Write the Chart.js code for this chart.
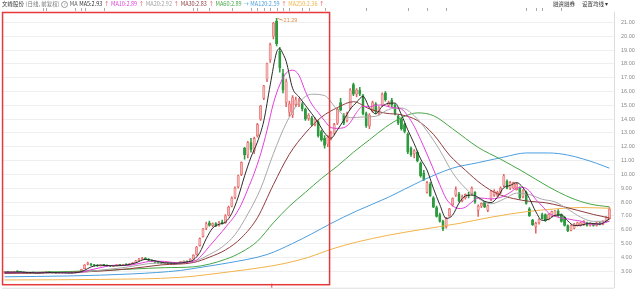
<!DOCTYPE html>
<html lang="zh">
<head>
<meta charset="UTF-8" />
<title>文峰股份 日线</title>
<script src="https://cdn.jsdelivr.net/npm/chart.js"></script>
<style>
  body { margin: 0; background: #fff; }
  #wrap { position: relative; width: 640px; height: 298px; overflow: hidden; }
  #kline { position: absolute; left: 0; top: 0; }
  .bar { position: absolute; top: 1px; font-family: "Noto Sans CJK SC", "Liberation Sans", sans-serif; font-size: 5.5px; line-height: 7px; white-space: nowrap; color: #333; }
  #head { left: 2px; }
  #head span { margin-right: 1.6px; }
  #tools { left: 553px; }
  #tools span { margin-right: 7px; }
  .sub { color: #777; }
  .q { display: inline-block; width: 5px; height: 5px; border: 0.6px solid #999; border-radius: 50%; font-size: 4px; line-height: 5px; text-align: center; color: #888; vertical-align: middle; }
  .up { color: #e8454f; }
</style>
</head>
<body>
<div id="wrap">
  <canvas id="kline" width="640" height="298"></canvas>
  <div id="head" class="bar">
    <span>文峰股份</span><span class="sub">(日线, 前复权)</span><span class="q">?</span><span style="color:#555">MA</span><span style="color:#2b2b2b">MA5:2.93</span><span class="up">↑</span><span style="color:#e23fd9">MA10:2.89</span><span class="up">↑</span><span style="color:#a0a0a0">MA20:2.92</span><span class="up">↑</span><span style="color:#8e3b3b">MA30:2.83</span><span class="up">↑</span><span style="color:#46a546">MA60:2.89</span><span style="color:#4a9ee0">→</span><span style="color:#4a9ee0">MA120:2.59</span><span class="up">↑</span><span style="color:#f2b34a">MA250:2.36</span><span class="up">↑</span>
  </div>
  <div id="tools" class="bar"><span>融资融券</span><span>设置均线 ▾</span></div>
</div>
<script>
  // daily candles: [open, high, low, close], one row per trading day
  const candles = [
    // 0
    [2.90,2.95,2.86,2.93],[2.93,2.96,2.88,2.89],[2.89,2.93,2.85,2.91],[2.91,2.99,2.90,2.97],[2.97,3.02,2.93,2.95],
    [2.95,2.97,2.90,2.92],[2.92,2.94,2.86,2.88],[2.88,2.91,2.84,2.86],[2.86,2.90,2.83,2.88],[2.88,2.92,2.85,2.87],
    // 10
    [2.87,2.90,2.82,2.84],[2.84,2.88,2.81,2.86],[2.86,2.93,2.85,2.91],[2.91,2.96,2.88,2.94],[2.94,2.97,2.89,2.90],
    [2.90,2.93,2.86,2.88],[2.88,2.90,2.84,2.85],[2.85,2.89,2.83,2.87],[2.87,2.92,2.85,2.90],[2.90,2.93,2.86,2.88],
    // 20
    [2.88,2.91,2.84,2.86],[2.86,2.90,2.84,2.89],[2.89,2.95,2.87,2.93],[2.93,2.98,2.90,2.96],[2.97,3.15,2.96,3.12],
    [3.18,3.48,3.15,3.45],[3.50,3.66,3.44,3.52],[3.50,3.56,3.40,3.44],[3.44,3.50,3.36,3.40],[3.40,3.45,3.34,3.38],
    // 30
    [3.38,3.46,3.36,3.43],[3.43,3.48,3.38,3.41],[3.41,3.45,3.34,3.37],[3.37,3.40,3.32,3.35],[3.35,3.42,3.33,3.40],
    [3.40,3.46,3.37,3.44],[3.44,3.49,3.40,3.42],[3.42,3.50,3.41,3.48],[3.48,3.53,3.43,3.46],[3.46,3.55,3.45,3.53],
    // 40
    [3.53,3.62,3.50,3.60],[3.62,3.78,3.60,3.75],[3.76,3.92,3.72,3.88],[3.88,4.00,3.84,3.95],[3.95,3.98,3.84,3.87],
    [3.86,3.90,3.76,3.79],[3.78,3.82,3.68,3.70],[3.70,3.74,3.60,3.63],[3.63,3.68,3.55,3.58],[3.58,3.62,3.52,3.55],
    // 50
    [3.55,3.64,3.53,3.61],[3.61,3.64,3.54,3.57],[3.57,3.60,3.50,3.53],[3.53,3.60,3.51,3.57],[3.57,3.64,3.55,3.62],
    [3.62,3.69,3.60,3.66],[3.66,3.74,3.63,3.71],[3.71,3.73,3.64,3.67],[3.68,3.90,3.66,3.86],[3.88,4.20,3.85,4.15],
    // 60
    [4.20,4.80,4.15,4.74],[4.85,5.40,4.80,5.35],[5.50,6.10,5.45,6.05],[6.10,6.55,6.00,6.42],[6.50,6.62,6.25,6.30],
    [6.30,6.50,6.20,6.44],[6.44,6.52,6.22,6.28],[6.30,6.60,6.26,6.52],[6.55,6.70,6.40,6.45],[6.50,7.10,6.45,7.00],
    // 70
    [7.05,7.70,7.00,7.62],[7.70,8.38,7.65,8.30],[8.35,9.10,8.25,9.00],[9.10,9.95,9.00,9.90],[10.00,10.90,9.90,10.85],
    [11.90,11.95,11.10,11.40],[11.40,12.40,11.20,12.30],[12.30,12.60,11.60,11.80],[11.70,12.70,11.50,12.60],[12.80,13.70,12.70,13.60],
    // 80
    [14.00,15.00,13.90,14.95],[15.50,16.45,15.40,16.40],[16.90,18.05,16.70,18.00],[18.30,19.50,18.10,19.40],[20.00,21.00,19.80,20.95],
    [21.10,21.29,19.30,19.45],[18.90,19.20,17.40,17.70],[17.30,17.60,15.90,16.10],[15.20,16.90,14.90,16.70],[14.50,15.30,14.20,15.10],
    // 90
    [14.30,15.70,14.10,15.55],[15.05,15.60,14.90,15.40],[15.10,15.50,14.90,15.30],[15.10,15.20,14.60,14.75],[14.70,14.80,13.90,14.00],
    [14.05,14.40,13.90,14.30],[14.10,14.20,13.50,13.60],[13.60,14.10,13.50,14.00],[13.80,13.90,12.70,12.80],[13.10,13.20,12.40,12.50],
    // 100
    [12.60,12.80,11.90,12.10],[12.20,12.80,12.00,12.70],[12.60,13.10,12.50,13.00],[13.00,13.70,12.90,13.60],[13.70,14.80,13.60,14.70],
    [15.20,15.50,14.60,14.65],[14.30,14.40,13.60,13.70],[13.90,14.50,13.80,14.40],[14.80,16.20,14.70,16.10],[16.50,16.60,15.70,15.80],
    // 110
    [15.80,16.20,15.60,16.10],[16.10,16.30,15.70,15.80],[15.70,15.80,14.30,14.40],[14.40,14.50,13.40,13.50],[13.50,14.40,13.30,14.30],
    [14.60,15.30,14.50,15.20],[15.10,15.20,14.40,14.50],[14.40,14.90,14.30,14.80],[15.00,15.90,14.90,15.80],[15.90,16.00,15.30,15.40],
    // 120
    [15.00,15.30,14.90,15.20],[15.35,15.50,14.90,15.00],[15.00,15.10,14.30,14.40],[14.20,14.30,13.60,13.70],[14.00,14.10,13.20,13.30],
    [13.60,13.70,13.00,13.10],[12.90,13.00,11.50,11.60],[11.90,12.00,11.30,11.40],[11.50,11.80,11.20,11.70],[11.60,11.70,10.90,11.00],
    // 130
    [10.80,10.90,9.80,9.90],[10.10,10.30,9.55,9.60],[8.70,9.50,8.64,9.40],[9.30,9.40,8.40,8.46],[8.30,8.40,7.60,7.62],
    [7.60,7.70,6.90,6.95],[7.10,7.20,6.55,6.60],[6.60,6.70,5.92,6.05],[6.20,6.90,6.10,6.85],[7.00,7.55,6.95,7.50],
    // 140
    [7.80,8.30,7.70,8.25],[8.50,9.10,8.40,8.90],[8.60,8.70,8.00,8.10],[8.10,8.50,8.00,8.40],[8.30,8.60,8.20,8.55],
    [8.50,8.70,8.30,8.45],[8.60,9.10,8.50,9.00],[8.70,8.75,7.90,8.00],[7.40,7.80,6.95,7.70],[7.70,7.95,7.60,7.90],
    // 150
    [8.00,8.05,7.60,7.65],[7.40,7.80,7.30,7.75],[8.20,8.85,8.10,8.80],[8.50,8.90,8.40,8.80],[8.50,8.80,8.40,8.70],
    [8.70,9.10,8.60,9.00],[9.20,10.00,9.10,9.90],[9.50,9.60,8.95,9.00],[9.00,9.50,8.90,9.40],[9.00,9.45,8.95,9.40],
    // 160
    [8.90,9.40,8.85,9.30],[9.00,9.10,8.20,8.30],[8.40,8.90,8.30,8.80],[8.70,8.80,7.85,7.90],[7.50,7.60,6.95,7.00],
    [6.70,6.75,6.30,6.35],[6.20,6.55,5.75,6.45],[6.50,6.80,6.40,6.75],[7.10,7.20,6.75,6.80],[7.10,7.15,6.60,6.65],
    // 170
    [6.75,7.15,6.70,7.10],[6.95,7.35,6.90,7.30],[7.00,7.40,6.95,7.35],[7.35,7.45,6.95,7.00],[7.10,7.15,6.55,6.60],
    [6.90,6.95,6.25,6.30],[6.30,6.35,5.85,5.90],[5.95,6.35,5.90,6.30],[6.10,6.45,6.05,6.40],[6.30,6.55,6.25,6.50],
    // 180
    [6.30,6.55,6.25,6.50],[6.35,6.65,6.30,6.60],[6.50,6.55,6.25,6.30],[6.30,6.50,6.25,6.45],[6.40,6.45,6.25,6.30],
    [6.30,6.55,6.25,6.50],[6.50,6.55,6.35,6.40],[6.40,6.65,6.35,6.60],[6.60,6.95,6.55,6.90],[6.80,7.60,6.75,7.50]
  ];

  // moving averages: [day index, value]
  const ma5 = [[0,2.93],[5,2.93],[10,2.87],[15,2.9],[20,2.87],[23,2.9],[25,3.06],[27,3.3],[30,3.43],[34,3.38],[38,3.44],[41,3.6],[44,3.85],[47,3.75],[50,3.6],[54,3.57],[57,3.67],[59,3.81],[61,4.35],[63,5.34],[65,6.11],[67,6.39],[69,6.54],[71,7.18],[73,8.36],[75,9.89],[77,11.25],[79,12.34],[81,13.87],[83,16.47],[85,18.84],[86,19.1],[87,18.72],[88,18.18],[90,16.23],[92,15.61],[94,15.0],[96,14.39],[98,13.74],[100,13.0],[102,12.62],[104,13.22],[106,13.93],[108,14.71],[110,15.22],[112,15.64],[114,14.82],[116,14.38],[118,14.92],[120,15.14],[122,15.16],[124,14.32],[126,13.22],[128,12.22],[130,11.12],[132,10.32],[134,8.99],[136,7.81],[138,6.81],[140,7.05],[142,7.92],[144,8.44],[146,8.5],[148,8.34],[150,8.05],[152,7.96],[154,8.34],[156,9.04],[158,9.2],[160,9.4],[162,9.04],[164,8.26],[166,7.3],[168,6.67],[170,6.75],[172,7.04],[174,7.07],[176,6.63],[178,6.3],[180,6.32],[183,6.47],[186,6.39],[189,6.78]];
  const ma10 = [[0,2.89],[10,2.9],[20,2.88],[24,2.92],[27,3.1],[30,3.25],[34,3.42],[38,3.41],[42,3.55],[46,3.72],[50,3.7],[54,3.6],[58,3.66],[60,3.8],[62,4.24],[64,4.8],[66,5.33],[68,5.87],[70,6.44],[72,7.03],[74,7.84],[76,8.93],[78,10.08],[80,11.47],[82,13.18],[84,15.14],[86,16.49],[88,17.33],[90,17.54],[92,17.17],[94,16.0],[96,15.08],[98,14.48],[100,13.88],[102,13.38],[104,13.33],[106,13.38],[108,13.75],[110,14.48],[112,14.93],[114,14.88],[116,15.01],[118,15.02],[120,14.89],[122,14.81],[124,14.73],[126,14.23],[128,13.48],[130,12.51],[132,11.47],[134,10.38],[136,9.26],[138,8.24],[140,7.73],[142,7.53],[144,7.62],[146,8.0],[148,8.29],[150,8.27],[152,8.22],[154,8.28],[156,8.42],[158,8.69],[160,9.0],[162,9.06],[164,8.8],[166,8.19],[168,7.71],[170,7.21],[172,6.97],[174,6.84],[176,6.78],[178,6.69],[180,6.62],[183,6.39],[186,6.43],[189,6.61]];
  const ma20 = [[0,2.92],[10,2.89],[20,2.88],[25,2.93],[30,3.07],[35,3.19],[40,3.35],[45,3.54],[50,3.59],[55,3.64],[60,3.77],[64,4.2],[68,4.75],[72,5.64],[76,7.13],[80,8.96],[84,11.5],[88,13.7],[92,15.2],[96,15.8],[100,15.7],[104,14.67],[108,14.1],[112,14.15],[116,14.2],[120,14.7],[124,14.8],[128,14.25],[132,13.14],[136,11.75],[140,10.12],[144,9.0],[148,8.26],[152,7.87],[156,8.21],[160,8.64],[164,8.54],[168,8.2],[172,8.01],[176,7.48],[180,6.91],[184,6.6],[189,6.62]];
  const ma30 = [[0,2.83],[10,2.86],[19,2.9],[29,2.99],[39,3.17],[49,3.45],[59,3.62],[64,4.01],[69,4.53],[74,5.41],[79,6.86],[84,9.26],[89,11.46],[94,12.99],[99,14.14],[104,14.83],[109,15.26],[114,14.74],[119,14.43],[124,14.31],[129,13.9],[134,12.9],[139,11.4],[144,10.3],[149,9.3],[154,8.6],[159,8.25],[164,8.05],[169,7.95],[174,7.7],[179,7.4],[184,7.1],[189,6.85]];
  const ma60 = [[0,2.89],[10,2.92],[20,2.97],[30,3.05],[40,3.15],[50,3.25],[59,3.31],[69,3.85],[74,4.37],[79,5.16],[84,6.5],[89,7.7],[94,8.7],[99,9.7],[104,10.6],[109,11.6],[114,12.5],[119,13.4],[124,14.1],[129,14.45],[134,14.25],[140,13.3],[148,11.95],[155,11.1],[162,10.2],[170,9.1],[177,8.3],[183,7.85],[189,7.65]];
  const ma120 = [[0,2.59],[20,2.65],[40,2.8],[55,3.05],[62,3.3],[70,3.6],[82,4.2],[90,5.0],[96,5.7],[102,6.45],[110,7.35],[120,8.35],[130,9.5],[140,10.45],[148,10.85],[156,11.25],[163,11.55],[170,11.55],[176,11.4],[181,11.1],[185,10.8],[189,10.45]];
  const ma250 = [[0,2.36],[30,2.4],[55,2.55],[71,2.97],[80,3.25],[87,3.53],[95,4.0],[102,4.58],[110,5.1],[120,5.6],[130,6.0],[142,6.45],[152,6.9],[163,7.3],[172,7.5],[180,7.6],[189,7.55]];

  const yTicks = [3,4,5,6,7,8,9,10,11,12,13,14,15,16,17,18,19,20,21];
  const eventMarks = [12,13,22,24,25,31,59,60,64,71,77,79,81,83,85,87,89,93,95,100,113,126,132,138,163,166,168,174];
  const selection = [-0.8, 101.4]; // highlighted range (day index)
  const selectionTag = 83.5;

  const UP_FILL = "#f5b3b3";
  const UP_LINE = "#e26464";
  const DOWN = "#2e9a3e";
  const isUp = (c) => c[3] >= c[0];

  function maLine(label, pts, color) {
    return {
      type: "line",
      label: label,
      data: pts.map((p) => ({ x: p[0], y: p[1] })),
      borderColor: color,
      borderWidth: 1,
      pointRadius: 0,
      cubicInterpolationMode: "monotone",
      order: 1,
    };
  }

  // red selection box, peak price, event ticks, bottom line
  const decor = {
    id: "decor",
    afterDatasetsDraw(chart) {
      const { ctx, chartArea, scales } = chart;
      const x = scales.x, y = scales.y;
      ctx.save();

      ctx.strokeStyle = "#dddddd";
      ctx.lineWidth = 1;
      ctx.beginPath();
      ctx.moveTo(chartArea.left, chartArea.bottom + 0.5);
      ctx.lineTo(chartArea.right, chartArea.bottom + 0.5);
      ctx.stroke();

      ctx.strokeStyle = "#aaaaaa";
      eventMarks.forEach((i) => {
        const px = Math.round(x.getPixelForValue(i)) + 0.5;
        ctx.beginPath();
        ctx.moveTo(px, 8);
        ctx.lineTo(px, 11);
        ctx.stroke();
      });

      let peak = 0;
      candles.forEach((c, i) => { if (c[1] > candles[peak][1]) peak = i; });
      const hx = x.getPixelForValue(peak), hy = y.getPixelForValue(candles[peak][1]);
      ctx.strokeStyle = "#e0904a";
      ctx.beginPath();
      ctx.moveTo(hx + 1, hy);
      ctx.lineTo(hx + 6, hy + 2);
      ctx.stroke();
      ctx.fillStyle = "#e0904a";
      ctx.font = "5.5px 'Liberation Sans'";
      ctx.textBaseline = "middle";
      ctx.fillText(candles[peak][1].toFixed(2), hx + 7, hy + 2.5);

      const x0 = x.getPixelForValue(selection[0]);
      const x1 = x.getPixelForValue(selection[1]);
      ctx.strokeStyle = "#e5383b";
      ctx.lineWidth = 1.5;
      ctx.strokeRect(x0 + 0.5, chartArea.top + 0.5, x1 - x0, chartArea.bottom - chartArea.top - 3.5);
      const tx = x.getPixelForValue(selectionTag);
      ctx.lineWidth = 1;
      ctx.beginPath();
      ctx.moveTo(tx, chartArea.bottom - 4);
      ctx.lineTo(tx, chartArea.bottom);
      ctx.stroke();
      ctx.restore();
    },
  };

  new Chart(document.getElementById("kline"), {
    type: "bar",
    data: {
      datasets: [
        maLine("MA5", ma5, "#2b2b2b"),
        maLine("MA10", ma10, "#e23fd9"),
        maLine("MA20", ma20, "#a8a8a8"),
        maLine("MA30", ma30, "#8e3b3b"),
        maLine("MA60", ma60, "#46a546"),
        maLine("MA120", ma120, "#4a9ee0"),
        maLine("MA250", ma250, "#f2b34a"),
        {
          label: "body",
          data: candles.map((c, i) => ({ x: i, y: [c[0], c[3]] })),
          backgroundColor: (ctx) => (isUp(candles[ctx.dataIndex]) ? UP_FILL : DOWN),
          borderColor: (ctx) => (isUp(candles[ctx.dataIndex]) ? UP_LINE : DOWN),
          borderWidth: 0.6,
          borderSkipped: false,
          barThickness: 2.3,
          minBarLength: 1,
          grouped: false,
          order: 5,
        },
        {
          label: "wick",
          data: candles.map((c, i) => ({ x: i, y: [c[2], c[1]] })),
          backgroundColor: (ctx) => (isUp(candles[ctx.dataIndex]) ? UP_LINE : DOWN),
          barThickness: 0.9,
          grouped: false,
          order: 6,
        },
      ],
    },
    options: {
      responsive: false,
      animation: false,
      devicePixelRatio: 1,
      layout: { padding: { left: 2, top: 12, bottom: 2, right: 0 } },
      plugins: { legend: { display: false }, tooltip: { enabled: false } },
      scales: {
        x: { type: "linear", min: -0.8125, max: 190.44, offset: false, display: false },
        y: {
          position: "right",
          min: 1.8,
          max: 21.75,
          afterBuildTicks: (s) => { s.ticks = yTicks.map((v) => ({ value: v })); },
          afterFit: (s) => { s.width = 26; },
          grid: { color: "#efefef", drawTicks: false },
          border: { color: "#dcdcdc" },
          ticks: {
            padding: 7,
            color: "#8a8a8a",
            font: { size: 5.5, family: "Liberation Sans" },
            callback: (v) => Number(v).toFixed(2),
          },
        },
      },
    },
    plugins: [decor],
  });
</script>
</body>
</html>
